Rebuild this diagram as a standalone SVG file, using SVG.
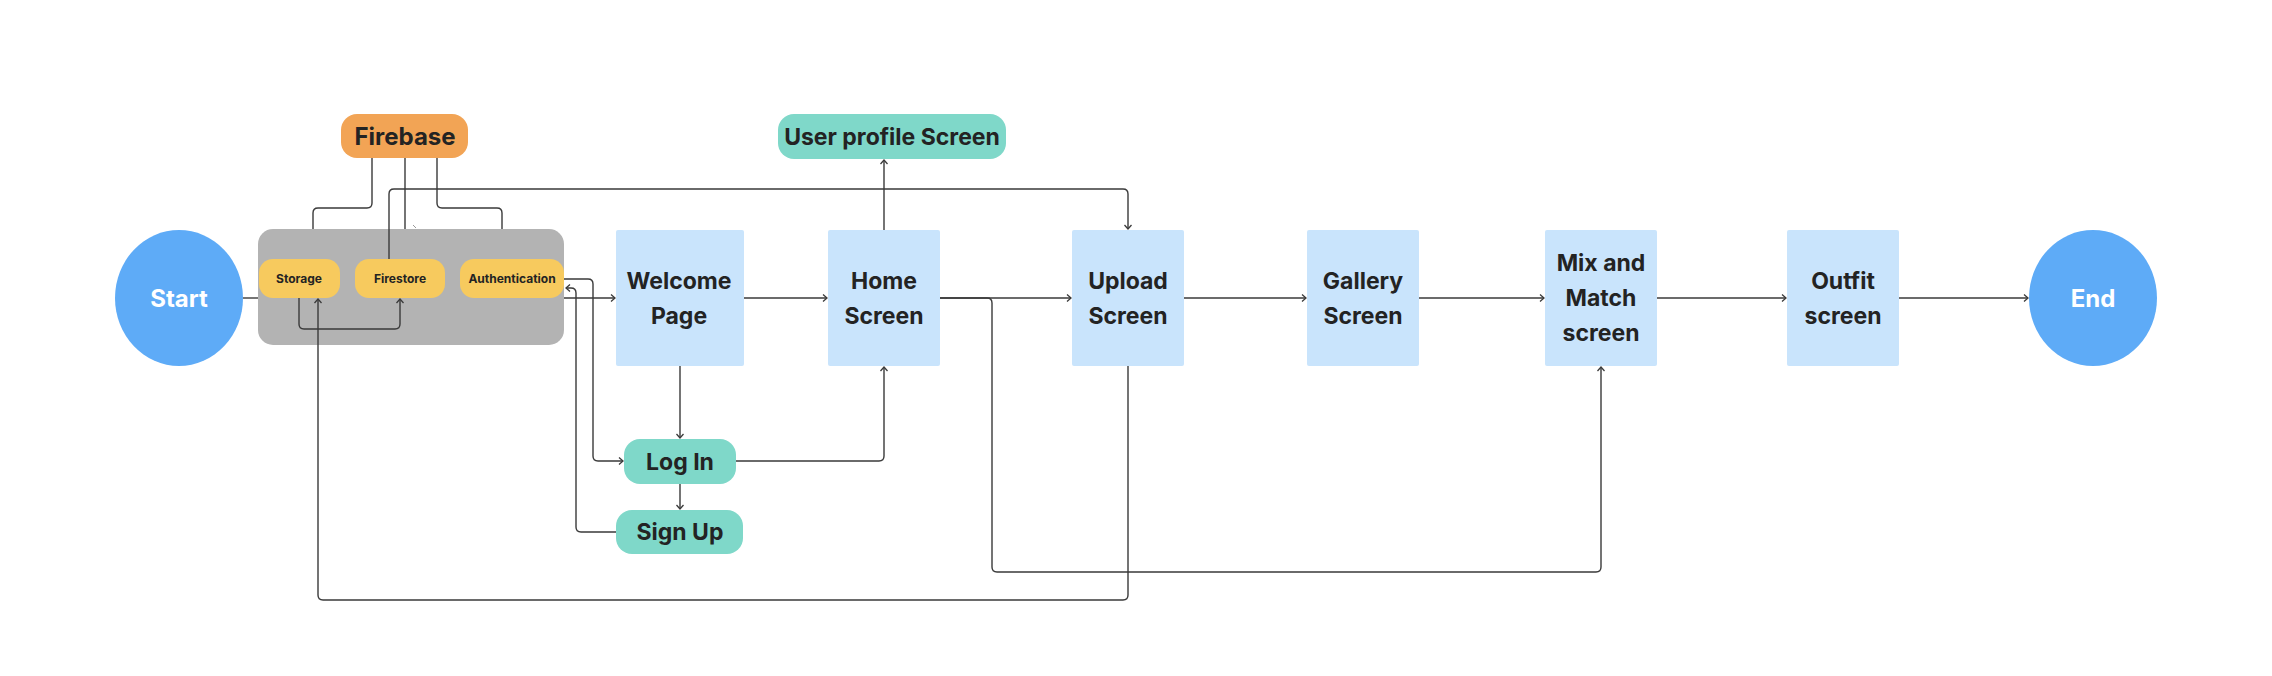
<svg xmlns="http://www.w3.org/2000/svg" width="2272" height="676" viewBox="0 0 2272 676">
<defs>
<style>
.t{font-family:Inter,"Liberation Sans",sans-serif;font-weight:700;fill:#232323;text-anchor:middle}
.big{font-size:23px}
.sm{font-size:12px}
.w{fill:#ffffff;font-size:24px}
.scr{fill:#c9e4fc}
.teal{fill:#7fd8c9}
.pill{fill:#f7ca5e}
.circ{fill:#5eabf7}
.c{fill:none;stroke:#3a3a3a;stroke-width:1.4}
.a{marker-end:url(#ah)}
</style>
<marker id="ah" markerUnits="userSpaceOnUse" markerWidth="12" markerHeight="12" viewBox="-6 -6 12 12" refX="0" refY="0" orient="auto">
<path d="M-4,-3.5 L0,0 L-4,3.5" fill="none" stroke="#3a3a3a" stroke-width="1.3"/>
</marker>
</defs>
<rect width="2272" height="676" fill="#ffffff"/>

<g id="firebase-group">
<rect x="258" y="229" width="306" height="116" rx="15" fill="#b3b3b3"/>
</g>

<g id="connectors">
<path class="c" d="M243,298 H258"/>
<path class="c a" d="M564,298 H615"/>
<path class="c a" d="M744,298 H827"/>
<path class="c a" d="M940,298 H1071"/>
<path class="c a" d="M1184,298 H1306"/>
<path class="c a" d="M1419,298 H1544"/>
<path class="c a" d="M1657,298 H1786"/>
<path class="c a" d="M1899,298 H2028"/>
<path class="c a" d="M884,230 V160"/>
<path class="c a" d="M680,366 V438"/>
<path class="c a" d="M680,484 V509"/>
<path class="c a" d="M736,461 H879 Q884,461 884,456 V367"/>
<path class="c a" d="M564,279 H588 Q593,279 593,284 V456 Q593,461 598,461 H623"/>
<path class="c a" d="M616,532 H581 Q576,532 576,527 V293 Q576,288 571,288 H566"/>
<path class="c a" d="M940,298 H987 Q992,298 992,303 V567 Q992,572 997,572 H1596 Q1601,572 1601,567 V367"/>
<path class="c a" d="M1128,366 V595 Q1128,600 1123,600 H323 Q318,600 318,595 V299"/>
<path class="c a" d="M389,259 V194 Q389,189 394,189 H1123 Q1128,189 1128,194 V229"/>
<path class="c" d="M372,158 V203 Q372,208 367,208 H318 Q313,208 313,213 V229"/>
<path class="c" d="M437,158 V203 Q437,208 442,208 H497 Q502,208 502,213 V229"/>
<path class="c" d="M405,158 V229"/>
<path d="M413,225 L416,228" fill="none" stroke="#999" stroke-width="1"/>
<path class="c a" d="M299,298 V324 Q299,329 304,329 H395 Q400,329 400,324 V299"/>
</g>

<g id="start">
<ellipse class="circ" cx="179" cy="298" rx="64" ry="68"/>
<text class="t w" x="179" y="307">Start</text>
</g>

<g id="firebase">
<rect x="341" y="114" width="127" height="44" rx="16" fill="#f2a455"/>
<text class="t big" x="405" y="145" style="font-size:24px">Firebase</text>
</g>

<g id="storage">
<rect class="pill" x="259" y="259" width="81" height="39" rx="14"/>
<text class="t sm" x="299" y="283">Storage</text>
</g>
<g id="firestore">
<rect class="pill" x="355" y="259" width="90" height="39" rx="14"/>
<text class="t sm" x="400" y="283">Firestore</text>
</g>
<g id="authentication">
<rect class="pill" x="460" y="259" width="104" height="39" rx="14"/>
<text class="t sm" x="512" y="283">Authentication</text>
</g>

<g id="welcome">
<rect class="scr" x="616" y="230" width="128" height="136" rx="2"/>
<text class="t big" x="679" y="289">Welcome</text>
<text class="t big" x="679" y="324">Page</text>
</g>

<g id="home">
<rect class="scr" x="828" y="230" width="112" height="136" rx="2"/>
<text class="t big" x="884" y="289">Home</text>
<text class="t big" x="884" y="324">Screen</text>
</g>

<g id="user-profile">
<rect class="teal" x="778" y="114" width="228" height="45" rx="16"/>
<text class="t big" x="892" y="145">User profile Screen</text>
</g>

<g id="login">
<rect class="teal" x="624" y="439" width="112" height="45" rx="16"/>
<text class="t big" x="680" y="470">Log In</text>
</g>

<g id="signup">
<rect class="teal" x="616" y="510" width="127" height="44" rx="16"/>
<text class="t big" x="680" y="540">Sign Up</text>
</g>

<g id="upload">
<rect class="scr" x="1072" y="230" width="112" height="136" rx="2"/>
<text class="t big" x="1128" y="289">Upload</text>
<text class="t big" x="1128" y="324">Screen</text>
</g>

<g id="gallery">
<rect class="scr" x="1307" y="230" width="112" height="136" rx="2"/>
<text class="t big" x="1363" y="289">Gallery</text>
<text class="t big" x="1363" y="324">Screen</text>
</g>

<g id="mix">
<rect class="scr" x="1545" y="230" width="112" height="136" rx="2"/>
<text class="t big" x="1601" y="271">Mix and</text>
<text class="t big" x="1601" y="306">Match</text>
<text class="t big" x="1601" y="341">screen</text>
</g>

<g id="outfit">
<rect class="scr" x="1787" y="230" width="112" height="136" rx="2"/>
<text class="t big" x="1843" y="289">Outfit</text>
<text class="t big" x="1843" y="324">screen</text>
</g>

<g id="end">
<ellipse class="circ" cx="2093" cy="298" rx="64" ry="68"/>
<text class="t w" x="2093" y="307">End</text>
</g>
</svg>
